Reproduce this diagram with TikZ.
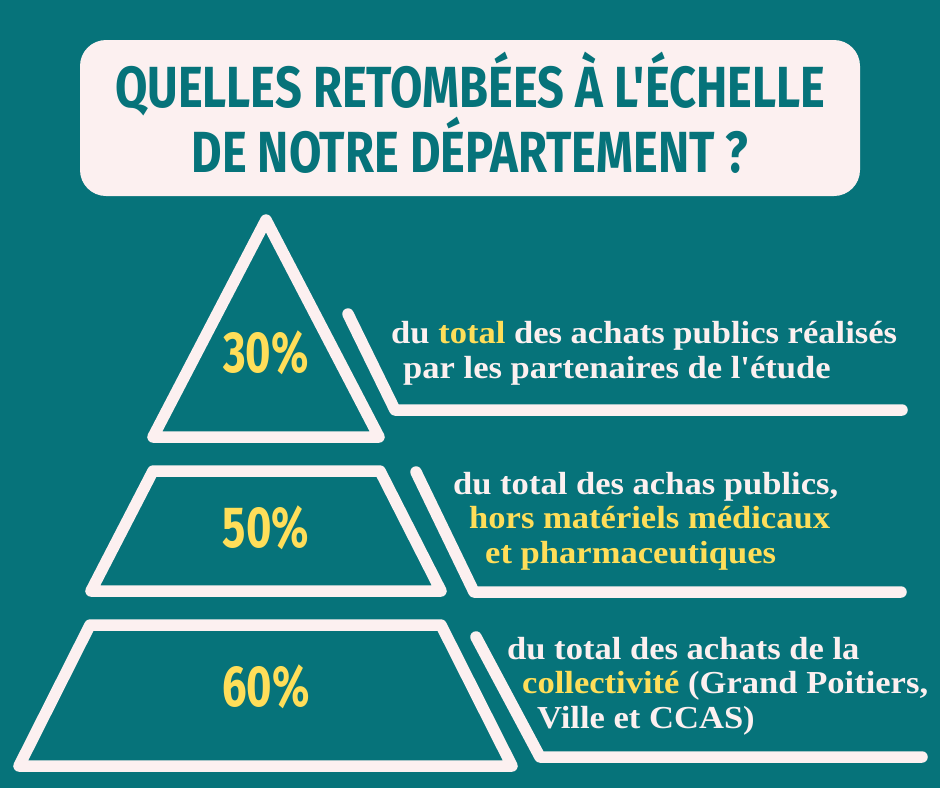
\documentclass[tikz,border=0pt]{standalone}
\usepackage{fontspec}
\usepackage{xcolor}
\usepackage{tikz}
\newfontfamily\displayfont[FakeStretch=0.81]{Fira Sans}
\newfontfamily\numfont[FakeStretch=0.75]{Fira Sans}
\newfontfamily\captionfont[FakeStretch=1.08]{Liberation Serif}
\definecolor{sea}{HTML}{06737A}
\definecolor{cream}{HTML}{FCF0F0}
\definecolor{gold}{HTML}{FFDE59}

\begin{document}
\begin{tikzpicture}[
				x=1pt, y=-1pt,
				outline/.style={draw=cream, line width=11.5pt, line join=round, line cap=round},
				pct/.style={font=\numfont\bfseries\fontsize{58}{58}\selectfont, text=gold},
				caption/.style={
						anchor=base west,
						inner sep=0pt,
						align=left,
						text=cream,
						font=\captionfont\bfseries\fontsize{32}{34.5}\selectfont
					}
			]
		% Background
		\fill[sea] (0,0) rectangle (940,788);
		\useasboundingbox (0,0) rectangle (940,788);

		% Title banner
		\fill[cream, rounded corners=26pt] (80,40) rectangle (860,196);
		\node[font=\displayfont\bfseries\fontsize{58}{57}\selectfont, text=sea, align=center] (title) at (470,113)
			{QUELLES RETOMBÉES À L'ÉCHELLE\\DE NOTRE DÉPARTEMENT ?};

		% Pyramid levels
		\draw[outline] (153,437) -- (266,220) -- (379,437) -- cycle;
		\draw[outline] (153,471) -- (380,471) -- (441,591) -- (91,591) -- cycle;
		\draw[outline] (90,625) -- (441,625) -- (512,766) -- (19,766) -- cycle;

		% Percentages
		\foreach \val/\ypos in {30/353, 50/528, 60/687} {
				\node[pct] (p\val) at (266,\ypos) {\val\%};
			}

		% Slanted leaders
		\draw[outline] (348,314) -- (395,410) -- (902,410);
		\draw[outline] (416,472) -- (474,592) -- (901,592);
		\draw[outline] (476,637) -- (540,757) -- (922,757);

		% Captions (anchored on the last line)
		\node[caption] (txt30) at (391,378)
			{du \textcolor{gold}{total} des achats publics réalisés\\\hspace*{12pt}par les partenaires de l'étude};
		\node[caption] (txt50) at (453,563)
			{du total des achas publics,\\\hspace*{16pt}\textcolor{gold}{hors matériels médicaux}\\\hspace*{32pt}\textcolor{gold}{et pharmaceutiques}};
		\node[caption] (txt60) at (507,728)
			{du total des achats de la\\\hspace*{15pt}\textcolor{gold}{collectivité} (Grand Poitiers,\\\hspace*{30pt}Ville et CCAS)};
	\end{tikzpicture}
\end{document}
